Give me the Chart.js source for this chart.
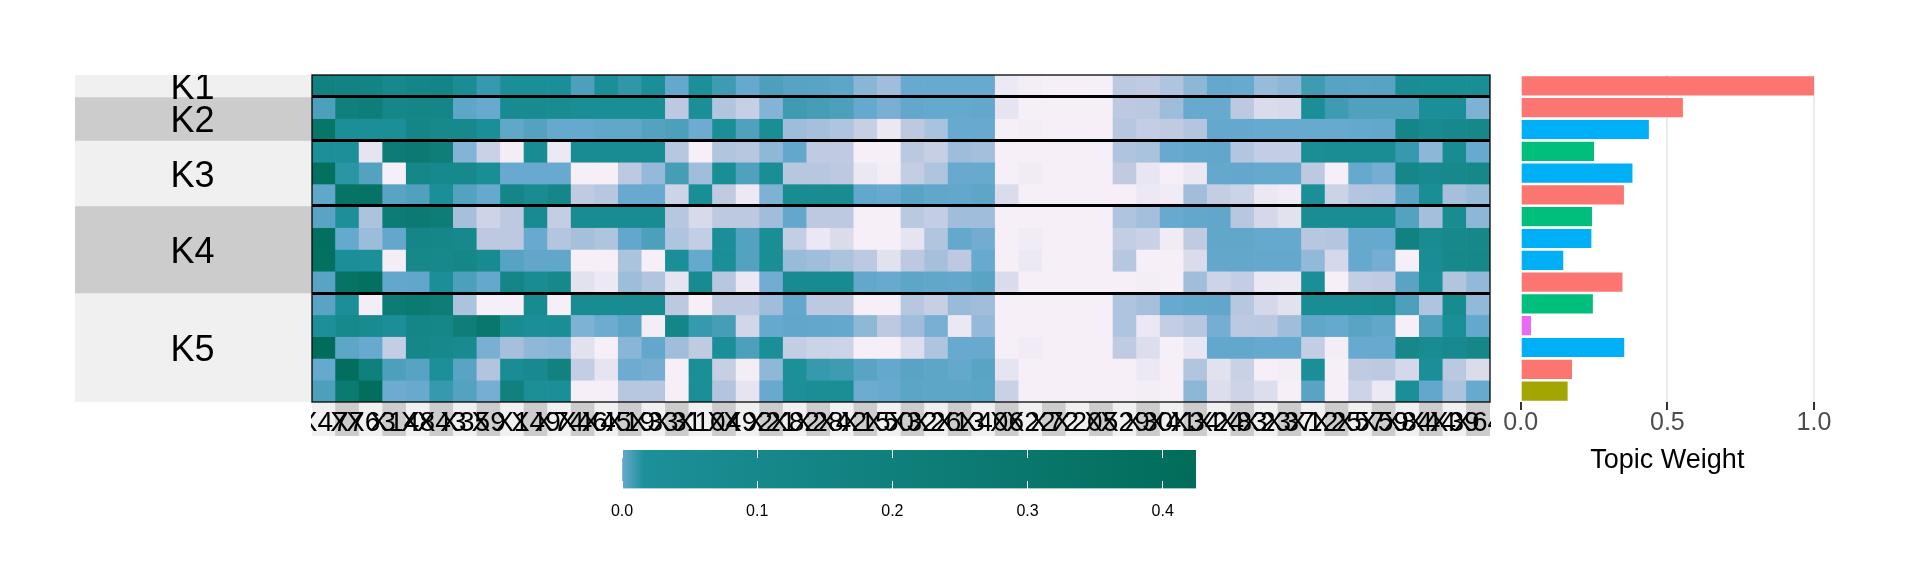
<!DOCTYPE html>
<html>
<head>
<meta charset="utf-8">
<title>Topic weights</title>
<script src="https://cdn.jsdelivr.net/npm/chart.js@4"></script>
<style>
  body { margin: 0; background: #fff; width: 1920px; height: 576px; overflow: hidden; position: relative; }
  canvas { position: absolute; }
</style>
</head>
<body>
<canvas id="clusterStrip" width="237" height="327" style="left:75px;top:75px"></canvas>
<canvas id="tileStrip" width="1178" height="34" style="left:312px;top:402px"></canvas>
<canvas id="heat" width="1180" height="366" style="left:311px;top:74px"></canvas>
<canvas id="weights" width="360" height="406" style="left:1500px;top:74px"></canvas>
<canvas id="colorbar" width="620" height="80" style="left:600px;top:445px"></canvas>

<script>
// Column labels (they overlap in the original too)
const xLabels = ["X47","X7","X63","X14","X8","X43","X35","X9","X1","X49","X74","X46","X45","X19","X33","X31","X10",
  "X4","X92","X21","X82","X28","X42","X15","X50","X32","X26","X13","X40","X6","X22","X72","X20","X5","X29","X30",
  "X41","X34","X24","X83","X23","X37","X12","X25","X57","X59","X84","X44","X39","X64"];

// Cell values, x1000 (same unit as the colour bar / 1000)
const k1a = [180,160,150,90,130,140,50,12,30,30,30,9,30,13,30,5.5,16, 11,5.2,9,7.5,7,6.5,3.8,3,5,5,5,5,.3,.1,0,0,0, 2,1.9,2.5,3.7,5.4,5,3.3,3.7,11,7.5,7,7.5,50,40,40,40];
const k2a = [9,200,220,120,130,130,6.5,5,70,70,60,40,40,40,40,2,30, 2.4,1.7,4,11,10,9,5.2,4.4,5.6,5.2,5.2,5.6,.6,0,0,0,0, 2,2.1,3.1,5,5,2,1,1.1,30,11,8.5,8.5,8.5,30,30,4.2];
const k2b = [320,30,30,30,130,90,90,30,6,8,5.2,5.2,6,6,8,9,4.8, 25,8.5,40,3.1,2.8,2.5,1.7,.4,2,2.7,5,5,0,.1,0,0,0, 2.2,1.8,1.9,2.3,5.5,5.5,5,5,5,5,5.4,5.6,130,70,90,110];
const k3a = [20,20,.6,240,260,220,4,1.6,.1,60,.3,60,60,60,60,2.2,0, 2.4,2.2,3.6,5.6,1.9,1.9,0,0,2.1,1.7,3.1,2.9,0,0,0,0,0, 2.5,2.7,5,5.6,5.8,2.3,1.8,1.8,40,50,50,50,12,3.7,60,5];
const k3b = [380,14,8,0,120,100,90,40,5,5,5,0,0,2,3.4,10,3, 40,8.5,40,2.2,2.2,2,.4,.1,1.8,2.5,5,5,0,.2,0,0,0, 1.9,.5,0,.4,5.5,5.6,5.2,5.2,2,0,5.1,4.5,120,80,90,110];
const k3c = [6,340,340,7,8.5,25,8,5.2,130,60,120,1.9,2.2,5,5,1.4,40, 1.9,.3,4.2,60,60,60,5.7,5,7,6,5.6,6.5,1,0,0,0,0, 0,.3,.2,3,1.8,1.5,.4,.2,30,1.5,2.3,2.5,7,40,2.8,3.3];
const k4a = [7,18,2.6,240,260,230,2.8,1.4,2,70,1.8,60,60,60,60,2.2,1.1, 2,2,3,5.6,2,2,0,0,2.1,1.8,3,3,0,0,0,0,0, 2.5,2.9,5,5.6,5.8,2.2,1.2,.7,50,50,50,50,8,2.9,60,3.7];
const k4b = [390,5.2,3.2,5.6,130,120,90,2,2,5,2.3,2.8,2.5,5.6,9,2.5,1.8, 30,8,40,1.8,.4,1,0,0,.6,2.4,5.3,4.6,0,.2,0,0,0, 1.8,1.6,.2,1.9,6,6,5.2,5.2,2.2,2.3,5.2,5.2,170,60,90,110];
const k4c = [380,25,20,.1,110,90,120,70,7.5,5.8,6,0,0,2.6,0,30,5.2, 30,8,40,3.3,3,2.6,2,.7,2,2.8,2,5,0,.3,0,0,0, 2.2,0,0,1,5.6,5.6,5.3,5.3,3.5,1.2,5.1,4.5,0,50,90,110];
const k4d = [7,350,380,5.6,5.8,25,9,5.4,130,60,100,.7,.3,3.1,2.4,.6,70, 2.2,.4,4.6,70,70,70,5.6,5,6.5,6,5.6,7,1,0,0,0,0, 0,.1,0,3,1.4,1.8,.4,.3,30,0,1.8,1.9,7,30,2.4,3.5];
const k5a = [7,25,.1,240,270,230,2.6,0,0,70,0,60,60,60,60,2,0, 2,2,3,5.6,2,2,0,0,2.2,1.7,3.3,3,0,0,0,0,0, 2.5,2.8,5,5.7,5.8,2.2,1.2,.7,50,50,50,60,9,2.5,70,3.5];
const k5b = [16,100,70,30,130,120,220,300,60,30,40,4.2,4.8,6.6,.1,130,12, 10,1.3,5.2,5.8,5.6,5.4,3.6,2,3,4.4,.4,3.4,0,0,0,0,0, 2.5,.4,1.8,2.2,4.5,2,2.1,3,6,5.2,7,6,0,8.5,30,5.5];
const k5c = [424,6.5,5,1.8,120,100,70,4.4,2.8,3.6,3.8,.7,0,3.8,5.6,3,1.9, 25,9,30,1.8,1.5,1.4,0,0,.9,2.5,5,5,0,.2,0,0,0, 1.9,.9,0,.5,5.6,5.7,5.2,5.1,1.8,.1,5,5,110,60,80,120];
const k5d = [5.2,400,200,9,7.5,20,7,2.4,50,80,180,1.8,.6,4.8,4.5,0,25, 1.7,.1,3.6,20,12,11,7,5.5,7,6.5,5.5,7,.6,0,0,0,0, 0,.3,0,2.4,.7,1.6,0,.1,25,0,1.9,2,1.2,30,2.1,1];
const k5e = [9,270,400,4.8,5,12,8,4.5,190,35,25,0,0,2.2,2.2,0,25, 2.4,.6,5,16,40,40,4.8,5,6.8,6.5,6.5,6.8,1.6,0,0,0,0, 0,.1,0,3.7,.9,1.4,.9,0,7,0,1.4,.3,25,5.6,2.6,5];

const heatRows = [k1a, k2a, k2b, k3a, k3b, k3c, k4a, k4b, k4c, k4d, k5a, k5b, k5c, k5d, k5e];

// Row groups: name, first row, last row
const clusterNames = ["K1", "K2", "K3", "K4", "K5"];
const clusterStart = [0, 1, 3, 6, 10];
const clusterEnd = [1, 3, 6, 10, 15];

// Right hand bars, one per row
const topicWeights = [1.0, .553, .437, .25, .381, .352, .243, .241, .145, .347, .246, .035, .353, .175, .16];
const topicGroups = ["a","a","b","c","b","a","c","b","b","a","c","d","b","a","e"];
const groupColors = { a: "#fb7670", b: "#00b0f6", c: "#00bf7d", d: "#e76bf3", e: "#a3a500" };

// Colour scale, values x1000
const scaleValues = [0, 2, 5, 16, 424];
const scaleColors = [[246,239,247], [189,201,225], [103,169,207], [28,144,153], [1,108,89]];
const scaleMax = 0.4246;
const scaleTicks = [0, .1, .2, .3, .4];

const axisFont = "Liberation Sans";
Chart.defaults.font.family = axisFont;
Chart.defaults.animation = false;
Chart.defaults.responsive = false;
Chart.defaults.plugins.legend.display = false;
Chart.defaults.plugins.tooltip.enabled = false;

function rgb(c) { return "rgb(" + c.map(Math.round).join(",") + ")"; }

function colorFor(v) {
  for (let i = 1; i < scaleValues.length; i++) {
    if (v <= scaleValues[i]) {
      const t = (v - scaleValues[i - 1]) / (scaleValues[i] - scaleValues[i - 1]);
      return rgb(scaleColors[i - 1].map((c, j) => c + (scaleColors[i][j] - c) * t));
    }
  }
  return rgb(scaleColors[scaleColors.length - 1]);
}

// Cluster strip with the K labels
new Chart(document.getElementById("clusterStrip"), {
  type: "bar",
  data: {
    labels: [""],
    datasets: clusterNames.map((name, i) => ({
      label: name,
      data: [[clusterStart[i], clusterEnd[i]]],
      grouped: false,
      barPercentage: 1,
      categoryPercentage: 1,
      backgroundColor: i % 2 ? "#cccccc" : "#f0f0f0"
    }))
  },
  options: {
    scales: {
      x: { display: false },
      y: { display: false, reverse: true, min: 0, max: 15 }
    }
  },
  plugins: [{
    id: "clusterText",
    afterDatasetsDraw(chart) {
      const c = chart.ctx, y = chart.scales.y, area = chart.chartArea;
      c.save();
      c.font = "36px " + axisFont;
      c.fillStyle = "#000";
      c.textAlign = "center";
      c.textBaseline = "middle";
      clusterNames.forEach((name, i) => {
        c.fillText(name, (area.left + area.right) / 2 - 1, y.getPixelForValue((clusterStart[i] + clusterEnd[i]) / 2) + 3.5);
      });
      c.restore();
    }
  }]
});

// Grey tiles under the column labels
new Chart(document.getElementById("tileStrip"), {
  type: "bar",
  data: {
    labels: xLabels,
    datasets: [{
      data: xLabels.map(() => [0, 1]),
      barPercentage: 1,
      categoryPercentage: 1,
      backgroundColor: xLabels.map((_, i) => i % 2 ? "#cccccc" : "#f0f0f0")
    }]
  },
  options: {
    scales: {
      x: { display: false },
      y: { display: false, min: 0, max: 1 }
    }
  }
});

// Heatmap, every row is a dataset of floating bars
new Chart(document.getElementById("heat"), {
  type: "bar",
  data: {
    labels: xLabels,
    datasets: heatRows.map((row, r) => ({
      data: row.map(() => [r, r + 1]),
      grouped: false,
      barPercentage: 1,
      categoryPercentage: 1,
      backgroundColor: row.map(colorFor)
    }))
  },
  options: {
    layout: { padding: { left: 1, right: 1, top: 1, bottom: 0 } },
    scales: {
      x: {
        grid: { display: false },
        border: { display: false },
        ticks: { autoSkip: false, maxRotation: 0, minRotation: 0, padding: -4, color: "#000", font: { size: 28 } },
        afterFit(s) { s.paddingLeft = 0; s.paddingRight = 0; s.height = 38; }
      },
      y: {
        reverse: true,
        min: 0,
        max: 15,
        afterBuildTicks(s) { s.ticks = clusterStart.slice(1).map(v => ({ value: v })); },
        ticks: { display: false },
        border: { display: false },
        afterFit(s) { s.width = 0; },
        grid: { z: 1, color: "#000", lineWidth: 3, drawTicks: false }
      }
    }
  },
  plugins: [{
    id: "frame",
    afterDraw(chart) {
      const a = chart.chartArea, c = chart.ctx;
      c.save();
      c.strokeStyle = "rgba(0,0,0,0.85)";
      c.lineWidth = 1.5;
      c.strokeRect(a.left, a.top, a.right - a.left, a.bottom - a.top);
      c.restore();
    }
  }]
});

// Topic weight bars
new Chart(document.getElementById("weights"), {
  type: "bar",
  data: {
    labels: topicWeights.map((_, i) => i + 1),
    datasets: [{
      data: topicWeights,
      barPercentage: 0.88,
      categoryPercentage: 1,
      backgroundColor: topicGroups.map(g => groupColors[g])
    }]
  },
  options: {
    indexAxis: "y",
    layout: { padding: { left: 20.7, right: 46, top: 1, bottom: 0 } },
    scales: {
      y: { display: false },
      x: {
        min: 0,
        max: 1,
        grid: {
          color: ctx => ctx.tick && ctx.tick.value === 0 ? "rgba(0,0,0,0)" : "#ebebeb",
          lineWidth: 2,
          tickColor: "#333",
          tickWidth: 2,
          tickLength: 8
        },
        border: { display: false },
        ticks: { stepSize: 0.5, padding: -2, color: "#4d4d4d", font: { size: 25 }, callback: v => v.toFixed(1) },
        title: { display: true, text: "Topic Weight", color: "#000", font: { size: 27 }, padding: { top: 0, bottom: 3 } },
        afterFit(s) { s.paddingLeft = 0; s.paddingRight = 0; s.height = 78; }
      }
    }
  }
});

// Colour bar
new Chart(document.getElementById("colorbar"), {
  type: "bar",
  data: {
    labels: ["value"],
    datasets: [{
      data: [[0, scaleMax]],
      barPercentage: 1,
      categoryPercentage: 1,
      backgroundColor(ctx) {
        const a = ctx.chart.chartArea;
        if (!a) return "#1c9099";
        const g = ctx.chart.ctx.createLinearGradient(a.left, 0, a.right, 0);
        // The lightest part of the scale does not show at this width
        g.addColorStop(0, rgb(scaleColors[2]));
        g.addColorStop(scaleValues[3] / 1000 / scaleMax, rgb(scaleColors[3]));
        g.addColorStop(scaleValues[4] / 1000 / scaleMax, rgb(scaleColors[4]));
        g.addColorStop(1, rgb(scaleColors[4]));
        return g;
      }
    }]
  },
  options: {
    indexAxis: "y",
    layout: { padding: { left: 22, right: 24, top: 5, bottom: 0 } },
    scales: {
      y: { display: false },
      x: {
        min: 0,
        max: scaleMax,
        afterBuildTicks(s) { s.ticks = scaleTicks.map(v => ({ value: v })); },
        grid: { z: 1, color: "#fff", lineWidth: 1, drawTicks: false },
        border: { display: false, dash: [8, 23] },
        ticks: { padding: 13, color: "#000", font: { size: 16 }, callback: v => v.toFixed(1) },
        afterFit(s) { s.paddingLeft = 0; s.paddingRight = 0; s.height = 36.5; }
      }
    }
  }
});
</script>
</body>
</html>
